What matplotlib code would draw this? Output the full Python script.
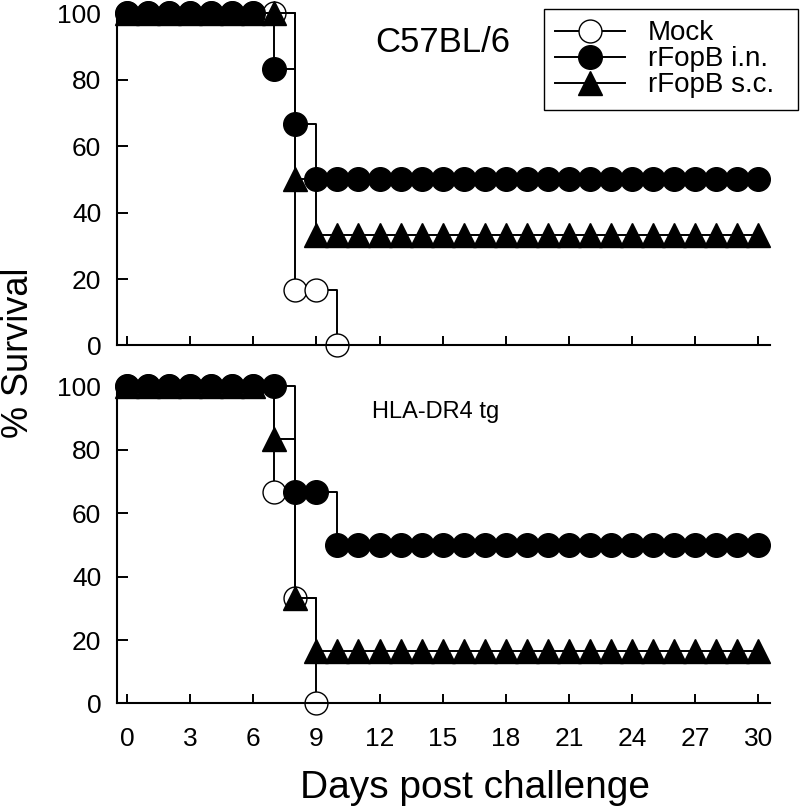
import matplotlib
matplotlib.use("Agg")
import matplotlib.pyplot as plt

plt.rcParams['font.family'] = ['Liberation Sans', 'DejaVu Sans']

# days post challenge
days = list(range(0, 31))

# C57BL/6 panel (% survival per day)
mock_b6 = [100, 100, 100, 100, 100, 100, 100, 100, 16.7, 16.7, 0]
in_b6 = [100, 100, 100, 100, 100, 100, 100, 83.3, 66.7, 50, 50,
         50, 50, 50, 50, 50, 50, 50, 50, 50, 50,
         50, 50, 50, 50, 50, 50, 50, 50, 50, 50]
sc_b6 = [100, 100, 100, 100, 100, 100, 100, 100, 50, 33.3, 33.3,
         33.3, 33.3, 33.3, 33.3, 33.3, 33.3, 33.3, 33.3, 33.3, 33.3,
         33.3, 33.3, 33.3, 33.3, 33.3, 33.3, 33.3, 33.3, 33.3, 33.3]

# HLA-DR4 tg panel
mock_dr4 = [100, 100, 100, 100, 100, 100, 100, 66.7, 33.3, 0]
in_dr4 = [100, 100, 100, 100, 100, 100, 100, 100, 66.7, 66.7, 50,
          50, 50, 50, 50, 50, 50, 50, 50, 50, 50,
          50, 50, 50, 50, 50, 50, 50, 50, 50, 50]
sc_dr4 = [100, 100, 100, 100, 100, 100, 100, 83.3, 33.3, 16.7, 16.7,
          16.7, 16.7, 16.7, 16.7, 16.7, 16.7, 16.7, 16.7, 16.7, 16.7,
          16.7, 16.7, 16.7, 16.7, 16.7, 16.7, 16.7, 16.7, 16.7, 16.7]

xticks = [0, 3, 6, 9, 12, 15, 18, 21, 24, 27, 30]
yticks = [0, 20, 40, 60, 80, 100]

fig = plt.figure(figsize=(8, 8.07), dpi=100)
ax_top = fig.add_axes([0.1466, 0.5719, 0.8159, 0.4114])
ax_bot = fig.add_axes([0.1466, 0.1283, 0.8159, 0.3928])


def draw_panel(ax, mock, rin, rsc):
    common = dict(color='black', lw=1.4, drawstyle='steps-post',
                  clip_on=False, markeredgewidth=1.0)
    ax.plot(days[:len(mock)], mock, marker='o', markersize=16.5,
            markerfacecolor='white', markeredgecolor='black',
            label='Mock', **common)
    ax.plot(days[:len(rsc)], rsc, marker='^', markersize=17.5,
            markerfacecolor='black', markeredgecolor='black',
            label='rFopB s.c.', **common)
    ax.plot(days[:len(rin)], rin, marker='o', markersize=17,
            markerfacecolor='black', markeredgecolor='black',
            label='rFopB i.n.', **common)
    ax.set_xlim(-0.46, 30.55)
    ax.set_ylim(0, 100)
    ax.set_xticks(xticks)
    ax.set_yticks(yticks)
    for s in ['top', 'right']:
        ax.spines[s].set_visible(False)
    for s in ['left', 'bottom']:
        ax.spines[s].set_linewidth(1.5)
    ax.tick_params(axis='x', direction='in', length=6.5, width=1.4,
                   labelsize=19, pad=17)
    ax.tick_params(axis='y', direction='in', length=8, width=1.4,
                   labelsize=19, pad=11.5)


draw_panel(ax_top, mock_b6, in_b6, sc_b6)
draw_panel(ax_bot, mock_dr4, in_dr4, sc_dr4)
ax_top.tick_params(axis='x', labelbottom=False)

ax_top.text(11.8, 91.3, 'C57BL/6', fontsize=25, ha='left', va='center')
ax_bot.text(11.64, 92.1, 'HLA-DR4 tg', fontsize=17, ha='left', va='center')

h, lab = ax_top.get_legend_handles_labels()
order = [0, 2, 1]
leg = fig.legend([h[i] for i in order], [lab[i] for i in order],
                 loc='upper left', bbox_to_anchor=(0.68, 0.85, 0.3175, 0.1385),
                 bbox_transform=fig.transFigure, mode='expand', borderaxespad=0,
                 fontsize=20, fancybox=False, edgecolor='black', framealpha=1,
                 handlelength=2.5, handletextpad=0.85, labelspacing=0.0,
                 borderpad=0.4)
leg.get_frame().set_linewidth(1.0)

fig.text(475 / 800, 1 - 798 / 807, 'Days post challenge', fontsize=28,
         ha='center', va='baseline')
fig.text(28 / 800, 1 - 353 / 807, '% Survival', fontsize=26, rotation=90,
         rotation_mode='anchor', ha='center', va='baseline')

fig.savefig('out.png', dpi=100)
